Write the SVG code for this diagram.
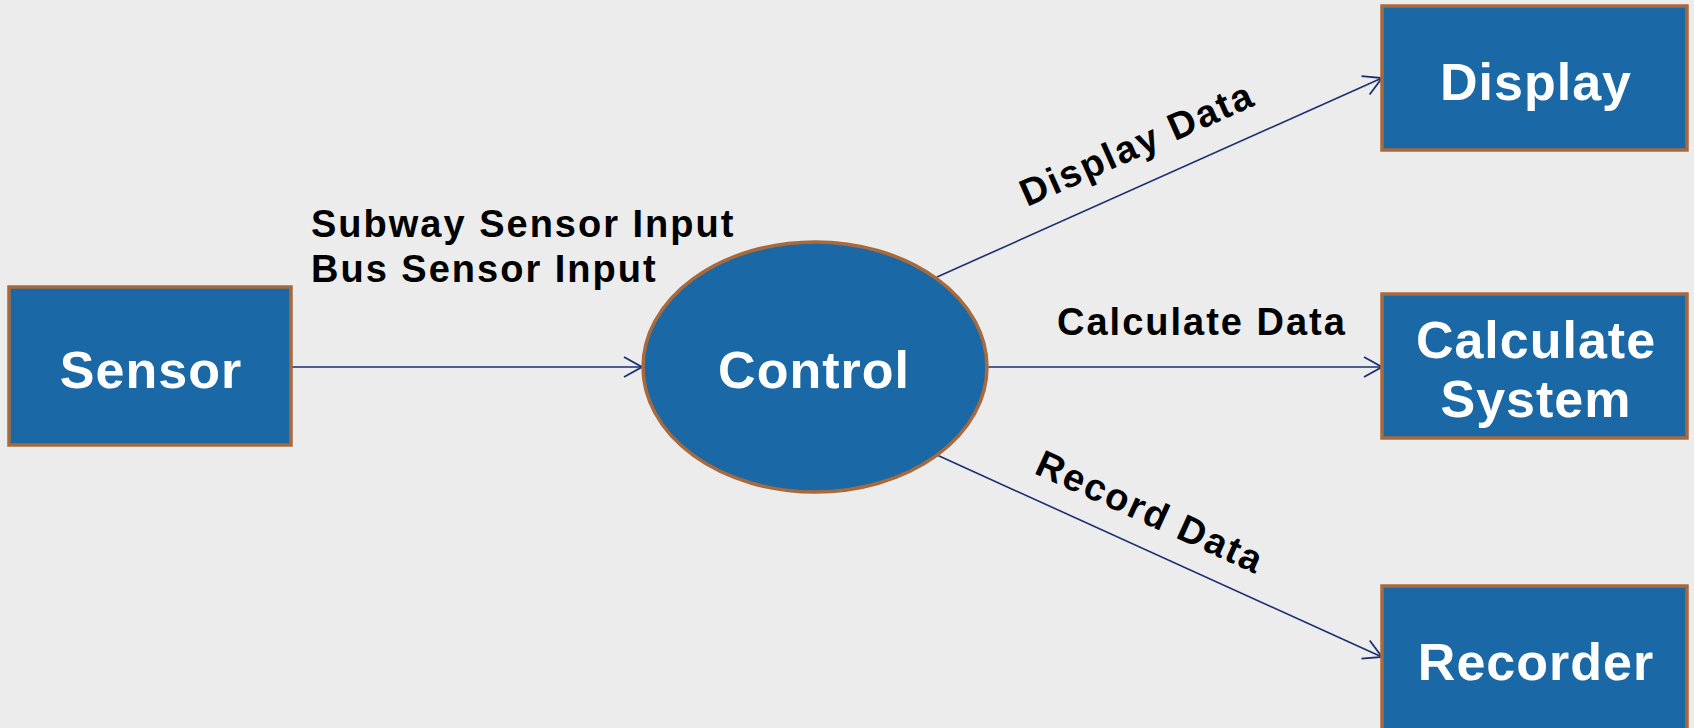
<svg xmlns="http://www.w3.org/2000/svg" width="1694" height="728" viewBox="0 0 1694 728">
  <defs>
    <style>
      .box { fill: #1A68A5; stroke: #A86A3C; stroke-width: 3.5; }
      .nodetext { font-family: "Liberation Sans", Arial, sans-serif; font-weight: bold; font-size: 52px; fill: #FFFFFF; letter-spacing: 1px; text-anchor: middle; }
      .label { font-family: "Liberation Sans", Arial, sans-serif; font-weight: bold; font-size: 38px; fill: #000000; letter-spacing: 2px; }
      .conn { stroke: #1B2F72; stroke-width: 1.6; fill: none; }
    </style>
    <marker id="arrow" viewBox="0 0 20 24" refX="19" refY="12" markerWidth="20" markerHeight="24" markerUnits="userSpaceOnUse" orient="auto">
      <path d="M1,2 L19,12 L1,22" fill="none" stroke="#1B2F72" stroke-width="1.8"/>
    </marker>
  </defs>

  <rect x="0" y="0" width="1694" height="728" fill="#ECECEC"/>

  <g id="connectors">
    <line class="conn" x1="291" y1="367" x2="642" y2="367" marker-end="url(#arrow)"/>
    <line class="conn" x1="937" y1="277" x2="1382" y2="78" marker-end="url(#arrow)"/>
    <line class="conn" x1="987" y1="367" x2="1382" y2="367" marker-end="url(#arrow)"/>
    <line class="conn" x1="937" y1="455" x2="1382" y2="657" marker-end="url(#arrow)"/>
  </g>

  <g id="connector-labels">
    <text class="label" x="311" y="237">Subway Sensor Input</text>
    <text class="label" x="311" y="282">Bus Sensor Input</text>
    <text class="label" x="1057" y="335">Calculate Data</text>
    <text class="label" x="1027" y="207" transform="rotate(-24 1027 207)">Display Data</text>
    <text class="label" x="1033" y="473" transform="rotate(24.4 1033 473)">Record Data</text>
  </g>

  <g id="node-sensor">
    <rect class="box" x="9" y="287" width="282" height="158"/>
    <text class="nodetext" x="151" y="388">Sensor</text>
  </g>

  <g id="node-control">
    <ellipse class="box" cx="815" cy="367" rx="172" ry="125"/>
    <text class="nodetext" x="814" y="388">Control</text>
  </g>

  <g id="node-display">
    <rect class="box" x="1382" y="6" width="305" height="144"/>
    <text class="nodetext" x="1536" y="100">Display</text>
  </g>

  <g id="node-calculate">
    <rect class="box" x="1382" y="294" width="305" height="144"/>
    <text class="nodetext" x="1536" y="358">Calculate</text>
    <text class="nodetext" x="1536" y="417">System</text>
  </g>

  <g id="node-recorder">
    <rect class="box" x="1382" y="586" width="305" height="146"/>
    <text class="nodetext" x="1536" y="680">Recorder</text>
  </g>
</svg>
